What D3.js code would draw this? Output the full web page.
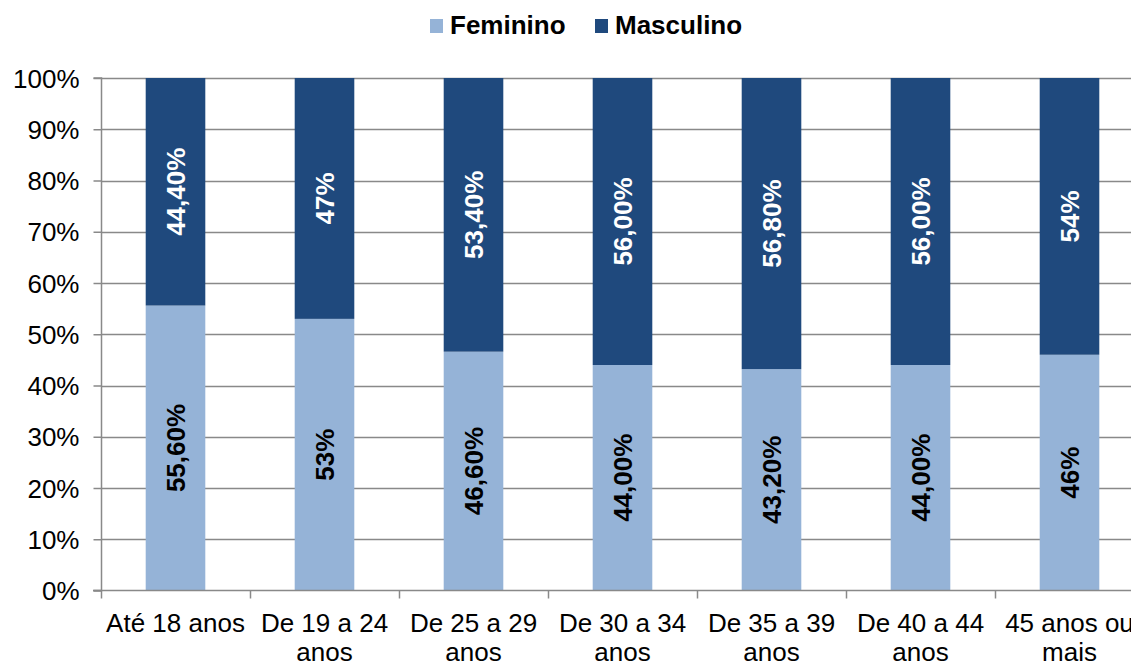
<!DOCTYPE html>
<html>
<head>
<meta charset="utf-8">
<script src="https://cdn.jsdelivr.net/npm/d3@7"></script>
<style>
html,body{margin:0;padding:0;background:#fff;overflow:hidden;}
text{font-family:"Liberation Sans",Arial,sans-serif;}
</style>
</head>
<body>
<svg id="chart" width="1131" height="666"></svg>
<script>
const categories = ["Até 18 anos","De 19 a 24 anos","De 25 a 29 anos","De 30 a 34 anos","De 35 a 39 anos","De 40 a 44 anos","45 anos ou mais"];
const feminino = [55.6, 53, 46.6, 44, 43.2, 44, 46];
const masculino = [44.4, 47, 53.4, 56, 56.8, 56, 54];
const femininoLabels = ["55,60%","53%","46,60%","44,00%","43,20%","44,00%","46%"];
const masculinoLabels = ["44,40%","47%","53,40%","56,00%","56,80%","56,00%","54%"];
const yTicks = [0,10,20,30,40,50,60,70,80,90,100];
const seriesNames = ["Feminino","Masculino"];
const colors = ["#95B3D7","#1F497D"];

const svg = d3.select("#chart");
const mLeft = 101, mRight = 1144, mTop = 78, mBottom = 590.5;
const x = d3.scaleBand().domain(categories).range([mLeft, mRight]).paddingInner(0.6).paddingOuter(0.3);
const y = d3.scaleLinear().domain([0,100]).range([mBottom, mTop]);
const grid = "#898989";

// gridlines
svg.append("g").selectAll("line").data(yTicks.filter(d=>d>0)).join("line")
  .attr("x1", mLeft).attr("x2", mRight)
  .attr("y1", d=>Math.round(y(d))+0.5).attr("y2", d=>Math.round(y(d))+0.5)
  .attr("stroke", grid).attr("stroke-width", 1.5);

// data
const rows = categories.map((c,i)=>({cat:c, Feminino:feminino[i], Masculino:masculino[i]}));
const stack = d3.stack().keys(seriesNames)(rows);

svg.append("g").selectAll("g").data(stack).join("g")
  .attr("fill", (d,i)=>colors[i])
  .selectAll("rect").data(d=>d).join("rect")
  .attr("x", d=>x(d.data.cat))
  .attr("width", x.bandwidth())
  .attr("y", d=>y(d[1]))
  .attr("height", d=>y(d[0])-y(d[1]));

// value labels
const labelSets = [femininoLabels, masculinoLabels];
const labelColors = ["#000","#fff"];
stack.forEach((s,si)=>{
  svg.append("g").selectAll("text").data(s).join("text")
    .attr("transform", (d,i)=>`translate(${x(d.data.cat)+x.bandwidth()/2+9},${(y(d[0])+y(d[1]))/2}) rotate(-90)`)
    .attr("text-anchor","middle")
    .attr("font-size", 26).attr("font-weight","bold")
    .attr("fill", labelColors[si])
    .text((d,i)=>labelSets[si][i]);
});

// y axis
const yAxis = d3.axisLeft(y).tickValues(yTicks).tickFormat(d=>d+"%").tickSize(8).tickPadding(14);
const yg = svg.append("g").attr("transform",`translate(${mLeft+0.5},0)`).call(yAxis);
yg.select(".domain").attr("stroke", grid).attr("stroke-width",1.5).attr("d",`M-8,${mTop}H0V${mBottom}H-8`);
yg.selectAll(".tick line").attr("stroke", grid).attr("stroke-width",1.5);
yg.selectAll(".tick text").attr("font-size",26).attr("fill","#000").attr("dy","0.35em").style("font-family","'Liberation Sans',Arial,sans-serif");

// x axis
const boundaries = d3.range(categories.length+1).map(i=>mLeft + i*x.step());
svg.append("line").attr("x1",mLeft-8).attr("x2",mRight).attr("y1",mBottom).attr("y2",mBottom)
  .attr("stroke",grid).attr("stroke-width",1.5);
svg.append("g").selectAll("line").data(boundaries).join("line")
  .attr("x1",d=>d+0.5).attr("x2",d=>d+0.5).attr("y1",mBottom).attr("y2",mBottom+8)
  .attr("stroke",grid).attr("stroke-width",1.5);

const xl = svg.append("g").selectAll("text").data(categories).join("text")
  .attr("x", d=>x(d)+x.bandwidth()/2)
  .attr("y", 632)
  .attr("text-anchor","middle").attr("font-size",26).attr("fill","#000");
xl.each(function(d){
  const t = d3.select(this);
  const words = d.split(" ");
  let lines = [], cur = [];
  const tmp = t.append("tspan");
  words.forEach(w=>{
    const test = cur.concat([w]).join(" ");
    tmp.text(test);
    if (tmp.node().getComputedTextLength() > 145 && cur.length) { lines.push(cur.join(" ")); cur=[w]; }
    else cur.push(w);
  });
  lines.push(cur.join(" "));
  tmp.remove();
  lines.forEach((l,i)=>{
    t.append("tspan").attr("x", x(d)+x.bandwidth()/2).attr("dy", i===0?0:29).text(l);
  });
});

// legend
const legend = svg.append("g");
const legendItems = [{name:"Feminino",c:colors[0],sx:430,tx:450},{name:"Masculino",c:colors[1],sx:595,tx:615}];
legendItems.forEach(it=>{
  legend.append("rect").attr("x",it.sx).attr("y",19).attr("width",13).attr("height",14).attr("fill",it.c);
  legend.append("text").attr("x",it.tx).attr("y",34).attr("font-size",26).attr("font-weight","bold").attr("fill","#000").text(it.name);
});
</script>
</body>
</html>
